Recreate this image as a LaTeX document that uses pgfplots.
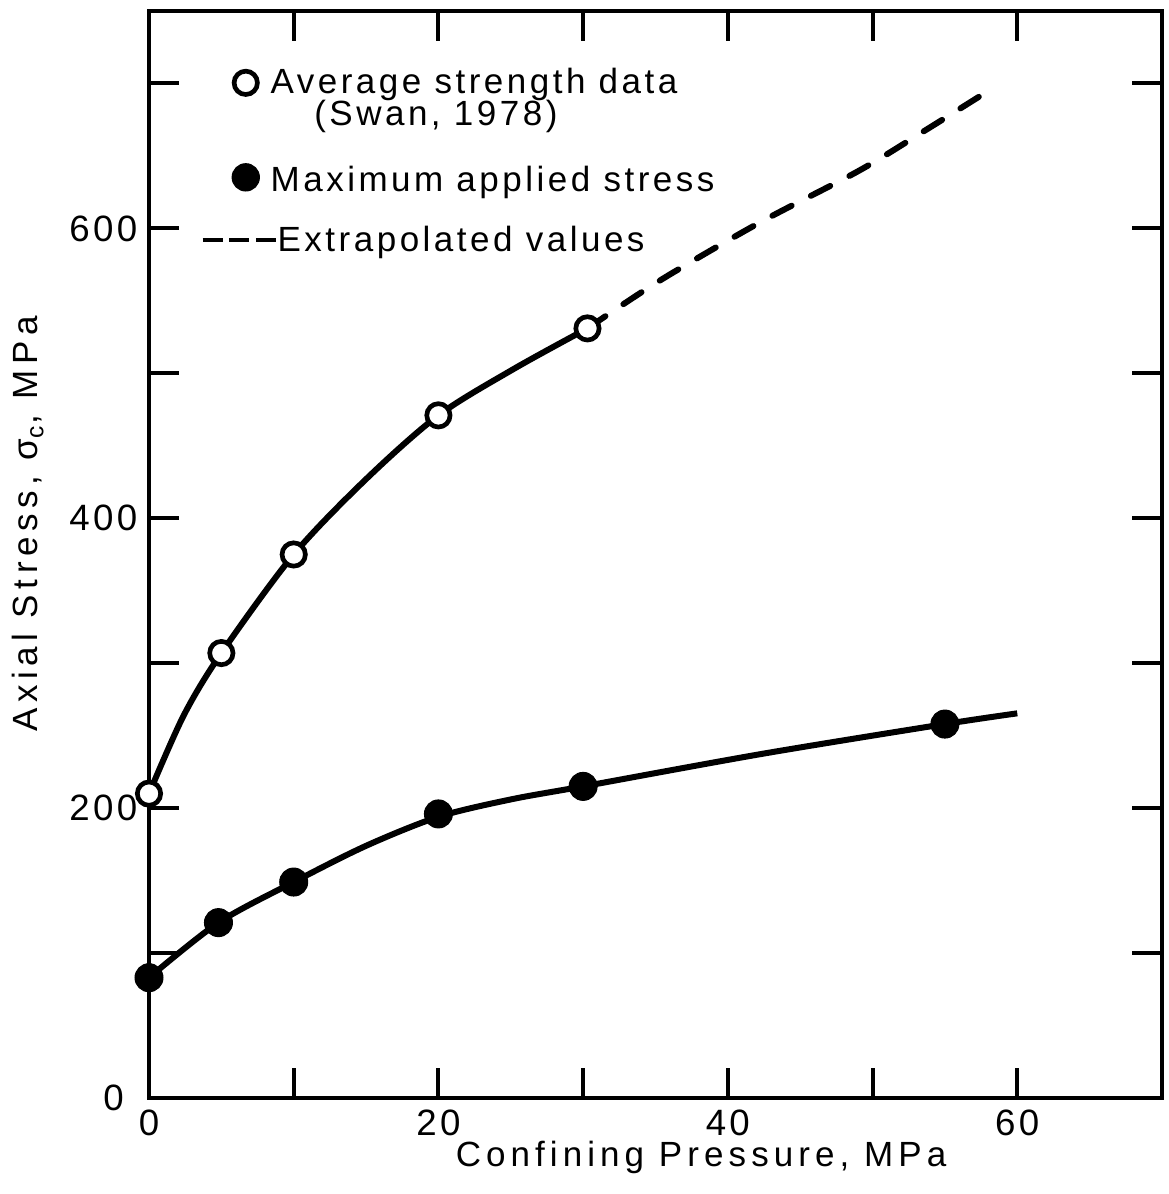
\documentclass[border=0pt]{standalone}
\usepackage{fontspec}
\setmainfont[LetterSpace=9]{Liberation Sans}
\newfontfamily\xlabelfont[LetterSpace=14.5]{Liberation Sans}
\newfontfamily\ylabelfont[LetterSpace=16]{Liberation Sans}
\newfontfamily\legfont[LetterSpace=10]{Liberation Sans}
\usepackage{pgfplots}
\pgfplotsset{compat=1.18}
\newcommand{\lstrut}{\rule[-1.35pt]{0pt}{9.3pt}}
\begin{document}
\begin{tikzpicture}
\begin{axis}[
  scale only axis, width=303.9pt, height=326.1pt,
  xmin=0, xmax=70, ymin=0, ymax=750,
  clip=false,
  xtick={0,10,...,70}, xticklabels={0,,20,,40,,60,},
  ytick={0,100,...,700}, yticklabels={0\hspace*{4pt},,200,,400,,600,},
  tick align=inside, major tick length=9pt,
  every tick/.style={black, line width=1.2pt},
  axis line style={line width=1.2pt},
  tick label style={font=\fontsize{11}{13}\selectfont},
  /pgf/number format/assume math mode=true,
  xlabel={Confining Pressure, MPa},
  ylabel={Axial Stress, σ\textsubscript{c}, MPa},
  every axis x label/.style={at={(axis description cs:0.545,-0.0626)}, anchor=base, font=\xlabelfont\fontsize{10.5}{12}\selectfont},
  every axis y label/.style={at={(axis description cs:-0.1096,0.528)}, anchor=base, rotate=90, font=\ylabelfont\fontsize{10.5}{12}\selectfont},
  legend style={draw=none, fill=none, inner sep=0pt, row sep=0pt, column sep=0pt,
     at={(axis description cs:0.0503,0.949)}, anchor=north west,
     nodes={inner sep=0pt, font=\legfont\fontsize{10.5}{12}\selectfont}},
  legend cell align=left,
  legend image code/.code={\path (0cm,0cm) (0.77cm,0cm); \draw[mark repeat=2,mark phase=2,#1] plot coordinates {(0cm,0cm) (0.455cm,0cm) (0.77cm,0cm)};},
]
\coordinate (sw) at (rel axis cs:0,0);
\coordinate (ne) at (rel axis cs:1,1);
% curves
\addplot[forget plot, line width=1.8pt, smooth] coordinates {(0,210) (2.4,264) (5,307) (10,375) (15,427) (20,471) (25.2,503) (30.3,531)};
\addplot[forget plot, line width=1.8pt, smooth, dash pattern=on 6.5pt off 6.5pt, line cap=round] coordinates {(30.3,531) (35.3,564) (42.2,604) (49.1,640) (53.7,668) (57.7,693)};
\addplot[forget plot, line width=1.8pt, smooth] coordinates {(0,83) (4.8,121) (10,149) (15,174) (20,194) (25,206) (30,215) (42.4,237.5) (55,258) (60,265.4)};
% data points
\addplot[forget plot, only marks, mark=*, mark size=3.5pt, mark options={fill=white, draw=black, line width=1.4pt}] coordinates {(0,210) (5,307) (10,375) (20,471) (30.3,531)};
\addplot[forget plot, only marks, mark=*, mark size=4.2pt, mark options={fill=black, draw=black, line width=0.3pt}] coordinates {(0,83) (4.8,121) (10,149) (20,196) (30,215) (55,258)};
% legend
\addlegendimage{only marks, mark=*, mark size=3.5pt, mark options={fill=white, draw=black, line width=1.4pt}}
\addlegendentry{\lstrut\hspace*{-2.1pt}\smash{Average strength data}}
\addlegendimage{empty legend}
\addlegendentry{\lstrut\hspace*{11pt}\smash{(Swan, 1978)}}
\addlegendimage{empty legend}
\addlegendentry{\lstrut}
\addlegendimage{only marks, mark=*, mark size=4.1pt, mark options={fill=black, draw=black, line width=0.3pt}}
\addlegendentry{\lstrut\hspace*{-2.1pt}\smash{\raisebox{-0.9pt}{Maximum applied stress}}}
\addlegendimage{empty legend}
\addlegendentry{\lstrut}
\addlegendimage{line width=1.2pt, dash pattern=on 6pt off 2pt}
\addlegendentry{\lstrut\hspace*{0pt}\smash{Extrapolated values}}
\end{axis}
\pgfresetboundingbox
\path ([shift={(-44.7pt,-28.8pt)}]sw) rectangle ([shift={(2.1pt,3.3pt)}]ne);
\end{tikzpicture}
\end{document}
